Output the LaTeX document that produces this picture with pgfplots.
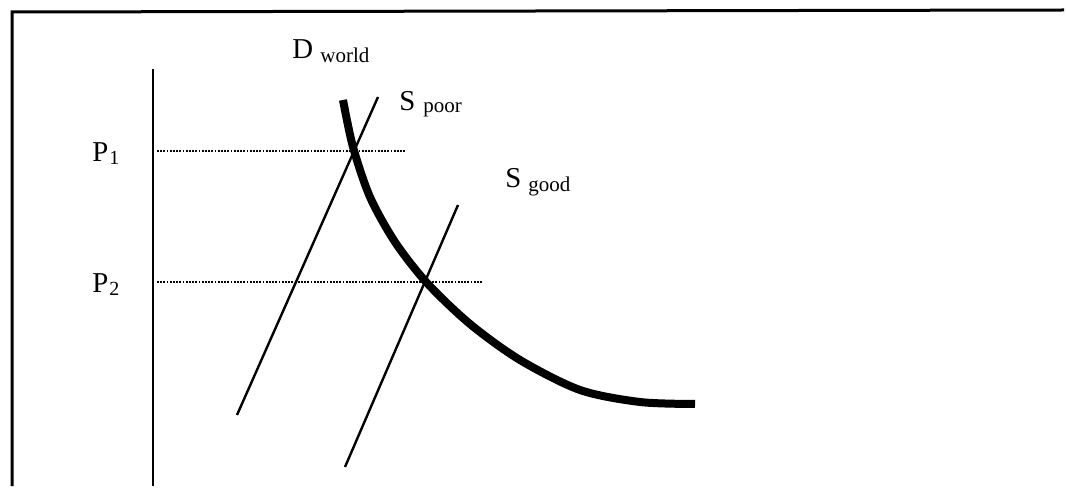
\documentclass[border=0pt]{standalone}
\usepackage{pgfplots}
\pgfplotsset{compat=1.18}
\usepackage{fontspec}
\setmainfont{Liberation Serif}
\begin{document}
\begin{tikzpicture}
\begin{axis}[
  scale only axis, width=533pt, height=243.5pt,
  xmin=0, xmax=1066, ymin=0, ymax=487,
  hide axis, clip=false,
]
% invisible extent
\addplot[draw=none] coordinates {(0,0) (1066,487)};
% outer frame (left and top)
\addplot[black, line width=1.5pt] coordinates {(12,1) (12,475) (1064,477)};
% price axis
\addplot[black, line width=1.4pt] coordinates {(153,1) (153,418)};
% price levels
\addplot[black, line width=1.4pt, dash pattern=on 0.9pt off 0.7pt] coordinates {(157,336) (405,336)};
\addplot[black, line width=1.4pt, dash pattern=on 0.9pt off 0.7pt] coordinates {(157,205) (483,205)};
% supply curves
\addplot[black, line width=1.2pt] coordinates {(237,72) (378,390)};
\addplot[black, line width=1.2pt] coordinates {(345,20) (458,282)};
% world demand
\addplot[black, line width=4pt, smooth] coordinates {
 (343,387) (353,340) (370,290) (395,245) (427,204) (470,163)
 (520,127) (580,97) (640,85) (695,83)};
% labels
\node[inner sep=0pt, anchor=base west, font=\fontsize{14.4}{16}\selectfont] at (axis cs:292,428) {D};
\node[inner sep=0pt, anchor=base west, font=\fontsize{10.5}{12}\selectfont] at (axis cs:320,424) {world};
\node[inner sep=0pt, anchor=base west, font=\fontsize{14.4}{16}\selectfont] at (axis cs:399,376) {S};
\node[inner sep=0pt, anchor=base west, font=\fontsize{10.5}{12}\selectfont] at (axis cs:423,374) {poor};
\node[inner sep=0pt, anchor=base west, font=\fontsize{14.4}{16}\selectfont] at (axis cs:505,299) {S};
\node[inner sep=0pt, anchor=base west, font=\fontsize{10.5}{12}\selectfont] at (axis cs:528,295) {good};
\node[inner sep=0pt, anchor=base west, font=\fontsize{14.4}{16}\selectfont] at (axis cs:92,325) {P};
\node[inner sep=0pt, anchor=base west, font=\fontsize{10}{12}\selectfont] at (axis cs:109,322) {1};
\node[inner sep=0pt, anchor=base west, font=\fontsize{14.4}{16}\selectfont] at (axis cs:92,194) {P};
\node[inner sep=0pt, anchor=base west, font=\fontsize{10}{12}\selectfont] at (axis cs:109,191) {2};
\end{axis}
\end{tikzpicture}
\end{document}
